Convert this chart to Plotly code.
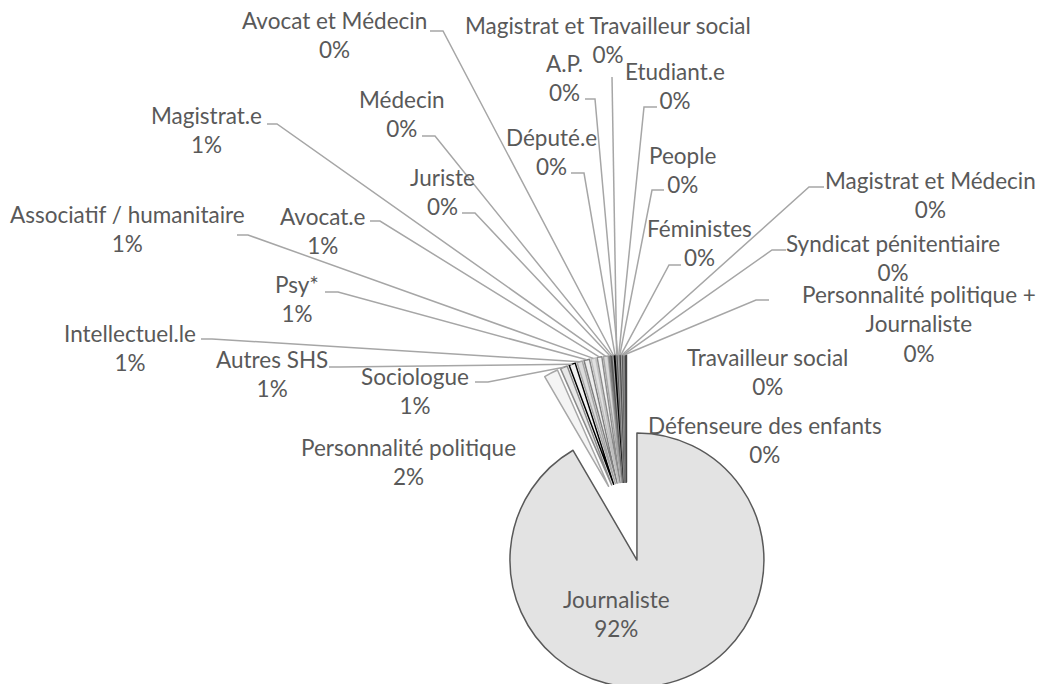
import math

import plotly.graph_objects as go

# ---- data (counts; percentages are derived from them) ----
categories = [
    "Journaliste", "Personnalité politique", "Sociologue", "Autres SHS",
    "Intellectuel.le", "Psy*", "Associatif / humanitaire", "Avocat.e",
    "Magistrat.e", "Juriste", "Médecin", "Avocat et Médecin", "Député.e",
    "Magistrat et Travailleur social", "A.P.", "Etudiant.e", "People",
    "Féministes", "Magistrat et Médecin", "Syndicat pénitentiaire",
    "Personnalité politique + Journaliste", "Travailleur social",
    "Défenseure des enfants",
]
counts = [917, 18, 9, 8, 7, 7, 6, 6, 6, 2, 2, 1, 2, 1, 1, 1, 1, 1, 1, 1, 1, 1, 1]
# how a long category name is broken in its label
label_names = {"Personnalité politique + Journaliste": "Personnalité politique +<br>Journaliste"}

# ---- layout ----
W, H = 1040, 684
OFF = 8          # the page body margin shifts the whole figure by 8px
DOM_X = [0.4345, 0.7551]
DOM_Y = [0.0053, 0.4927]
PULL = 0.3126
FONT = dict(family="Lato, Calibri, sans-serif", size=22.5, color="#595959")

# label block centres (page pixels)
LABEL_POS = {
    "Journaliste": (616, 614),
    "Personnalité politique": (408, 462),
    "Sociologue": (415, 391),
    "Autres SHS": (272, 374),
    "Intellectuel.le": (130, 348),
    "Psy*": (297, 299),
    "Associatif / humanitaire": (127, 229),
    "Avocat.e": (323, 231),
    "Magistrat.e": (206, 130),
    "Juriste": (442, 192),
    "Médecin": (402, 114),
    "Avocat et Médecin": (334, 35),
    "Député.e": (551, 152),
    "Magistrat et Travailleur social": (608, 40),
    "A.P.": (564, 78),
    "Etudiant.e": (675, 86),
    "People": (682, 170),
    "Féministes": (699, 243),
    "Magistrat et Médecin": (930, 195),
    "Syndicat pénitentiaire": (893, 258),
    "Personnalité politique + Journaliste": (919, 324),
    "Travailleur social": (767, 372),
    "Défenseure des enfants": (765, 440),
}
# leader line: start next to the label, then knee, then on to the slice
LEADERS = {
    "Avocat et Médecin": (430, 31, 443, 31),
    "Magistrat.e": (267, 124, 277, 124),
    "Médecin": (422, 136, 435, 136),
    "Juriste": (462, 213, 475, 213),
    "Associatif / humanitaire": (237, 235, 248, 235),
    "Avocat.e": (370, 221, 380, 221),
    "Psy*": (325, 292, 338, 292),
    "Intellectuel.le": (201, 339, 212, 339),
    "Autres SHS": (329, 367, 340, 367),
    "Sociologue": (475, 382, 488, 382),
    "Magistrat et Travailleur social": (612, 77, 612, 77),
    "A.P.": (585, 99, 595, 99),
    "Etudiant.e": (657, 107, 644, 107),
    "Député.e": (571, 173, 584, 173),
    "People": (664, 190, 652, 190),
    "Féministes": (681, 265, 669, 265),
    "Magistrat et Médecin": (824, 187, 809, 187),
    "Syndicat pénitentiaire": (786, 250, 772, 250),
    "Personnalité politique + Journaliste": (769, 300, 756, 300),
}

# slice styling, in category order
fills = ["#e3e3e3",
         "#f4f4f4", "#e8e8e8", "#f0f0f0", "#dcdcdc", "#eeeeee", "#e0e0e0", "#f2f2f2", "#d9d9d9",
         "#c8c8c8", "#bdbdbd", "#d0d0d0", "#b8b8b8", "#c4c4c4", "#b0b0b0", "#cccccc",
         "#bababa", "#c0c0c0", "#b4b4b4", "#c8c8c8", "#adadad", "#bcbcbc"]
lines = ["#595959",
         "#a6a6a6", "#8c8c8c", "#000000", "#a6a6a6", "#7f7f7f", "#bfbfbf", "#8c8c8c", "#a6a6a6",
         "#7f7f7f", "#595959", "#a6a6a6", "#000000", "#8c8c8c", "#595959", "#a6a6a6",
         "#7f7f7f", "#404040", "#a6a6a6", "#595959", "#8c8c8c", "#7f7f7f"]


def page(x, y):
    """page pixels -> paper coords"""
    return (x - OFF) / W, 1 - (y - OFF) / H


fig = go.Figure(go.Pie(
    labels=categories, values=counts, sort=False, direction="clockwise", rotation=0,
    pull=[PULL] * len(counts), textinfo="none", hoverinfo="label+percent",
    marker=dict(colors=fills, line=dict(color=lines, width=1.5)),
    domain=dict(x=DOM_X, y=DOM_Y), showlegend=False))

# pie geometry as plotly computes it, in figure pixels (to aim the leader lines)
cx = W * (DOM_X[0] + DOM_X[1]) / 2
cy = H * (1 - DOM_Y[0]) - H * (DOM_Y[1] - DOM_Y[0]) / 2
r = min(W * (DOM_X[1] - DOM_X[0]) / 2, H * (DOM_Y[1] - DOM_Y[0]) / 2) / (1 + PULL)

total = sum(counts)
cum = 0
for name, v in zip(categories, counts):
    mid = math.radians((cum + v / 2) / total * 360)
    cum += v
    pct = f"{round(100 * v / total)}%"
    lx, ly = page(*LABEL_POS[name])
    fig.add_annotation(x=lx, y=ly, xref="paper", yref="paper", showarrow=False,
                       text=f"{label_names.get(name, name)}<br>{pct}", font=FONT,
                       xanchor="center", yanchor="middle", align="center")
    if name in LEADERS:
        sx, sy, kx, ky = LEADERS[name]
        tx = cx + (1 + PULL) * r * math.sin(mid)
        ty = cy - (1 + PULL) * r * math.cos(mid)
        pts = [page(sx, sy), page(kx, ky), (tx / W, 1 - ty / H)]
        path = "M" + " L".join(f"{a:.5f},{b:.5f}" for a, b in pts)
        fig.add_shape(type="path", path=path, xref="paper", yref="paper",
                      line=dict(color="#a6a6a6", width=1.5))

fig.update_layout(width=W, height=H, margin=dict(l=0, r=0, t=0, b=0),
                  paper_bgcolor="white", plot_bgcolor="white", showlegend=False)
fig.write_html("out.html")
